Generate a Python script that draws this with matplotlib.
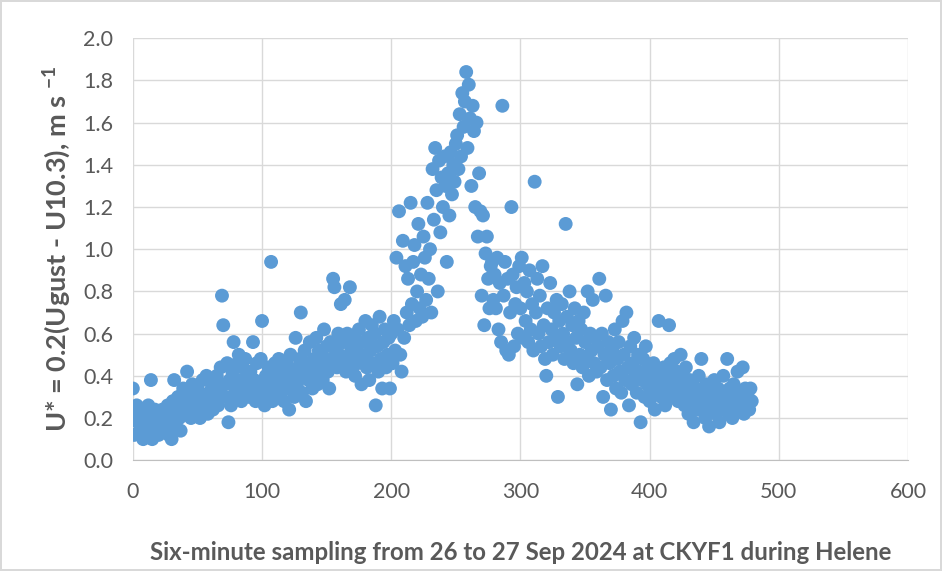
import matplotlib
matplotlib.use("Agg")
import matplotlib.pyplot as plt
import numpy as np

# U* values, one per six-minute sample (index 0..479)
u_star = [
    0.34, 0.12, 0.22, 0.26, 0.18, 0.20, 0.14, 0.24, 0.10, 0.22, 0.16, 0.12, 0.26, 0.20, 0.38, 0.10, 0.18, 0.24, 0.14, 0.22,
    0.12, 0.20, 0.16, 0.24, 0.18, 0.14, 0.22, 0.26, 0.12, 0.20, 0.10, 0.28, 0.38, 0.16, 0.24, 0.30, 0.20, 0.14, 0.26, 0.34,
    0.22, 0.28, 0.42, 0.24, 0.32, 0.20, 0.36, 0.26, 0.22, 0.30, 0.34, 0.28, 0.20, 0.24, 0.38, 0.30, 0.26, 0.40, 0.22, 0.32,
    0.28, 0.36, 0.24, 0.34, 0.30, 0.40, 0.26, 0.32, 0.44, 0.78, 0.64, 0.36, 0.30, 0.46, 0.18, 0.38, 0.26, 0.42, 0.56, 0.34,
    0.30, 0.46, 0.50, 0.38, 0.28, 0.44, 0.32, 0.48, 0.36, 0.40, 0.30, 0.42, 0.34, 0.56, 0.38, 0.28, 0.46, 0.32, 0.36, 0.48,
    0.66, 0.34, 0.26, 0.40, 0.30, 0.44, 0.36, 0.94, 0.28, 0.38, 0.46, 0.32, 0.42, 0.48, 0.30, 0.36, 0.44, 0.28, 0.40, 0.46,
    0.34, 0.24, 0.50, 0.38, 0.42, 0.30, 0.58, 0.36, 0.44, 0.48, 0.70, 0.32, 0.40, 0.52, 0.28, 0.46, 0.38, 0.56, 0.42, 0.34,
    0.48, 0.40, 0.58, 0.36, 0.52, 0.44, 0.50, 0.38, 0.62, 0.46, 0.54, 0.42, 0.34, 0.56, 0.48, 0.86, 0.82, 0.52, 0.44, 0.60,
    0.50, 0.74, 0.46, 0.56, 0.76, 0.42, 0.60, 0.48, 0.82, 0.52, 0.44, 0.58, 0.40, 0.54, 0.46, 0.62, 0.50, 0.36, 0.56, 0.48,
    0.66, 0.44, 0.58, 0.38, 0.52, 0.64, 0.46, 0.60, 0.26, 0.54, 0.42, 0.68, 0.48, 0.34, 0.56, 0.62, 0.44, 0.50, 0.58, 0.34,
    0.60, 0.46, 0.66, 0.52, 0.96, 0.62, 1.18, 0.50, 0.42, 1.04, 0.58, 0.92, 0.70, 0.86, 0.64, 1.22, 0.74, 0.94, 1.02, 0.66,
    0.80, 1.12, 0.72, 0.88, 0.68, 1.06, 0.96, 0.76, 1.22, 0.86, 1.00, 0.70, 1.38, 1.14, 1.48, 1.28, 0.80, 1.42, 1.08, 1.34,
    1.20, 1.44, 1.30, 0.94, 1.36, 1.16, 1.46, 1.26, 1.40, 1.32, 1.50, 1.54, 1.38, 1.64, 1.44, 1.74, 1.58, 1.70, 1.84, 1.48,
    1.78, 1.62, 1.30, 1.68, 1.56, 1.20, 1.60, 1.06, 1.36, 1.18, 0.78, 1.16, 0.64, 0.98, 1.06, 0.86, 0.72, 0.92, 0.94, 0.76,
    0.88, 0.72, 0.96, 0.62, 0.84, 0.56, 1.68, 0.78, 0.94, 0.52, 0.86, 0.50, 0.70, 1.20, 0.88, 0.54, 0.74, 0.82, 0.60, 0.92,
    0.72, 0.96, 0.58, 0.84, 0.66, 0.80, 0.56, 0.90, 0.62, 0.74, 0.52, 1.32, 0.70, 0.86, 0.60, 0.78, 0.54, 0.92, 0.64, 0.48,
    0.40, 0.72, 0.56, 0.84, 0.62, 0.50, 0.70, 0.58, 0.76, 0.30, 0.66, 0.54, 0.74, 0.60, 0.48, 1.12, 0.68, 0.56, 0.80, 0.52,
    0.64, 0.46, 0.72, 0.58, 0.36, 0.66, 0.50, 0.62, 0.44, 0.70, 0.56, 0.48, 0.80, 0.40, 0.60, 0.52, 0.76, 0.46, 0.58, 0.42,
    0.54, 0.86, 0.44, 0.60, 0.30, 0.50, 0.78, 0.38, 0.56, 0.46, 0.24, 0.52, 0.40, 0.62, 0.34, 0.48, 0.56, 0.42, 0.32, 0.66,
    0.50, 0.38, 0.70, 0.44, 0.26, 0.54, 0.36, 0.46, 0.58, 0.40, 0.32, 0.50, 0.42, 0.18, 0.38, 0.48, 0.30, 0.54, 0.36, 0.44,
    0.28, 0.40, 0.34, 0.46, 0.24, 0.38, 0.32, 0.66, 0.42, 0.30, 0.36, 0.44, 0.26, 0.40, 0.34, 0.64, 0.46, 0.30, 0.38, 0.48,
    0.32, 0.42, 0.28, 0.36, 0.50, 0.30, 0.40, 0.26, 0.44, 0.34, 0.22, 0.38, 0.30, 0.36, 0.18, 0.28, 0.34, 0.24, 0.40, 0.30,
    0.48, 0.26, 0.32, 0.20, 0.36, 0.28, 0.16, 0.34, 0.24, 0.30, 0.38, 0.22, 0.28, 0.34, 0.18, 0.26, 0.32, 0.40, 0.24, 0.30,
    0.48, 0.22, 0.34, 0.28, 0.20, 0.36, 0.26, 0.30, 0.42, 0.24, 0.32, 0.28, 0.44, 0.22, 0.34, 0.26, 0.30, 0.24, 0.34, 0.28,
]
sample = np.arange(len(u_star))

x_ticks = [0, 100, 200, 300, 400, 500, 600]
y_ticks = [0.0, 0.2, 0.4, 0.6, 0.8, 1.0, 1.2, 1.4, 1.6, 1.8, 2.0]

plt.rcParams['font.family'] = ['Lato', 'DejaVu Sans']
plt.rcParams['mathtext.fontset'] = 'custom'
plt.rcParams['mathtext.rm'] = 'Lato'
plt.rcParams['mathtext.bf'] = 'Lato:bold'
grey = '#595959'

fig = plt.figure(figsize=(9.42, 5.71), dpi=100)
fig.patch.set_edgecolor('#d9d9d9')
fig.patch.set_linewidth(1.5)
ax = fig.add_axes([0.141, 0.194, 0.823, 0.739])

ax.scatter(sample, u_star, s=100, color='#5b9bd5', edgecolors='none', zorder=3)

ax.set_xlim(0, 600)
ax.set_ylim(0, 2.0)
ax.set_xticks(x_ticks)
ax.set_yticks(y_ticks)
ax.set_yticklabels([f"{v:.1f}" for v in y_ticks])
ax.grid(True, color='#d9d9d9', linewidth=1)
ax.set_axisbelow(True)
for side in ['top', 'right', 'left']:
    ax.spines[side].set_visible(False)
ax.spines['bottom'].set_color('#bfbfbf')
ax.tick_params(length=0, labelsize=15.5, colors=grey)
ax.tick_params(axis='x', pad=16)
ax.tick_params(axis='y', pad=14)

ax.set_xlabel("Six-minute sampling from 26 to 27 Sep 2024 at CKYF1 during Helene",
              fontsize=17.3, fontweight='bold', color=grey, labelpad=28)
ax.set_ylabel(r"U* = 0.2(Ugust - U10.3), m s $^{\mathbf{-1}}$",
              fontsize=19.5, fontweight='bold', color=grey)
ax.yaxis.set_label_coords(-0.077, 0.5)

fig.savefig('out.png', dpi=100, edgecolor=fig.get_edgecolor())
